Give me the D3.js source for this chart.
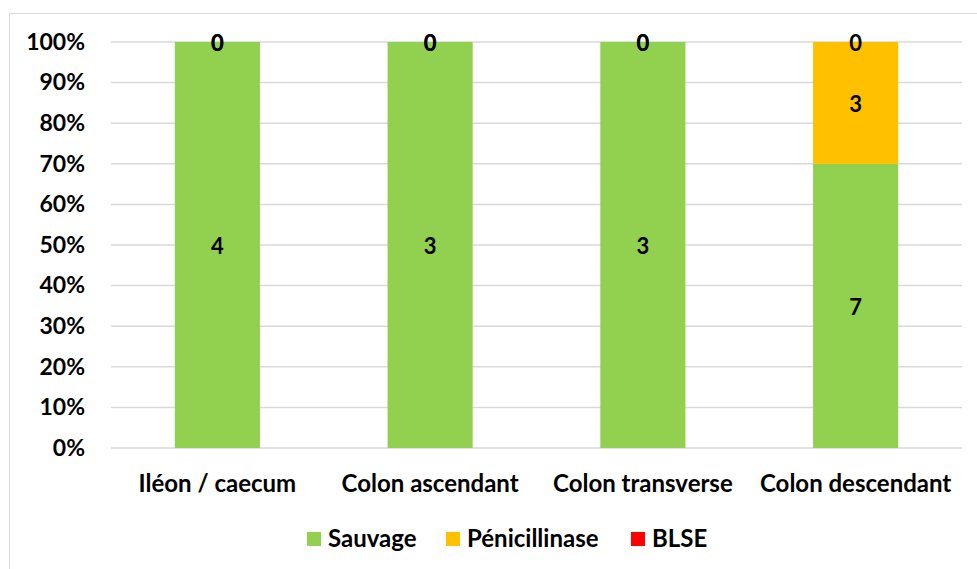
<html lang="fr">
<head>
  <meta charset="utf-8">
  <title>Répartition des phénotypes</title>
  <script src="https://d3js.org/d3.v7.min.js"></script>
  <style>
    body { margin: 0; background: #fff; }
    text { font-family: Lato, "Liberation Sans", sans-serif; font-weight: bold; fill: #000; }
  </style>
</head>
<body>
  <svg width="977" height="569"></svg>
  <script>
    const categories = ["Iléon / caecum", "Colon ascendant", "Colon transverse", "Colon descendant"];
    const seriesNames = ["Sauvage", "Pénicillinase", "BLSE"];
    const sauvage = [4, 3, 3, 7];
    const penicillinase = [0, 0, 0, 3];
    const blse = [0, 0, 0, 0];
    const colors = ["#92D050", "#FFC000", "#FF0000"];
    const yTicks = [0, 0.1, 0.2, 0.3, 0.4, 0.5, 0.6, 0.7, 0.8, 0.9, 1];

    const rows = categories.map((c, i) => ({
      cat: c, "Sauvage": sauvage[i], "Pénicillinase": penicillinase[i], "BLSE": blse[i]
    }));

    const svg = d3.select("svg");
    const margin = { left: 111, right: 15, top: 42, bottom: 121 };
    const W = 977, H = 569;

    // chart border
    svg.append("rect")
      .attr("x", 9.5).attr("y", 13.5)
      .attr("width", W).attr("height", H)
      .attr("fill", "none").attr("stroke", "#d9d9d9");

    const x = d3.scaleBand()
      .domain(categories)
      .range([margin.left, W - margin.right])
      .paddingInner(0.6).paddingOuter(0.3);

    const y = d3.scaleLinear()
      .domain([0, 1])
      .range([H - margin.bottom, margin.top]);

    // gridlines
    svg.append("g")
      .selectAll("line")
      .data(yTicks)
      .enter()
      .append("line")
      .attr("x1", margin.left).attr("x2", W - margin.right)
      .attr("y1", d => y(d)).attr("y2", d => y(d))
      .attr("stroke", "#d9d9d9").attr("stroke-width", 1.5);

    // y axis labels
    const yAxis = svg.append("g")
      .attr("transform", `translate(${margin.left},0)`)
      .call(d3.axisLeft(y).tickValues(yTicks).tickFormat(d3.format(".0%")).tickSize(0).tickPadding(26));
    yAxis.select(".domain").remove();
    yAxis.selectAll("text").style("font-size", "23px").attr("fill", "#000");

    // x axis labels
    const xAxis = svg.append("g")
      .attr("transform", `translate(0,${H - margin.bottom})`)
      .call(d3.axisBottom(x).tickSize(0).tickPadding(27));
    xAxis.select(".domain").remove();
    xAxis.selectAll("text").style("font-size", "24px").attr("fill", "#000");

    const stack = d3.stack().keys(seriesNames).offset(d3.stackOffsetExpand);
    const series = stack(rows);

    const layer = svg.append("g")
      .selectAll("g")
      .data(series)
      .enter()
      .append("g")
      .attr("fill", (d, i) => colors[i]);

    layer.selectAll("rect")
      .data(d => d)
      .enter()
      .append("rect")
      .attr("x", d => x(d.data.cat))
      .attr("width", x.bandwidth())
      .attr("y", d => y(d[1]))
      .attr("height", d => y(d[0]) - y(d[1]));

    // data labels
    svg.append("g")
      .selectAll("g")
      .data(series)
      .enter()
      .append("g")
      .selectAll("text")
      .data(d => d.map(p => ({ p: p, key: d.key })))
      .enter()
      .append("text")
      .attr("x", d => x(d.p.data.cat) + x.bandwidth() / 2)
      .attr("y", d => y((d.p[0] + d.p[1]) / 2) + 1)
      .attr("dy", "0.35em")
      .attr("text-anchor", "middle")
      .style("font-size", "22px")
      .text(d => d.p.data[d.key]);

    // legend
    const legendItems = [
      { name: seriesNames[0], x: 307 },
      { name: seriesNames[1], x: 446 },
      { name: seriesNames[2], x: 631 }
    ];
    const legend = svg.append("g")
      .selectAll("g")
      .data(legendItems)
      .enter()
      .append("g")
      .attr("transform", d => `translate(${d.x},539)`);
    legend.append("rect")
      .attr("x", 0).attr("y", -7)
      .attr("width", 14).attr("height", 14)
      .attr("fill", (d, i) => colors[i]);
    legend.append("text")
      .attr("x", 21).attr("dy", "0.35em")
      .style("font-size", "24px")
      .text(d => d.name);
  </script>
</body>
</html>
